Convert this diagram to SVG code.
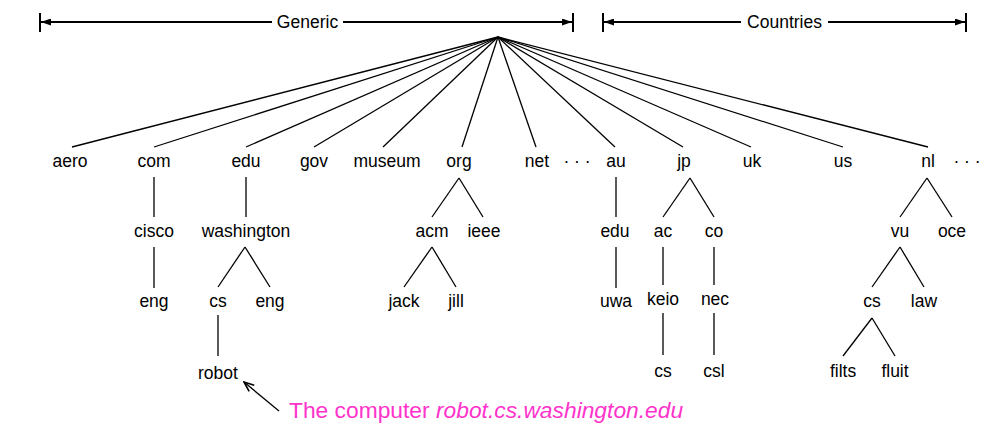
<svg xmlns="http://www.w3.org/2000/svg" width="1008" height="426" viewBox="0 0 1008 426">
<defs>
<marker id="tri" viewBox="0 0 10 7" refX="10" refY="3.5" markerWidth="11" markerHeight="7" markerUnits="userSpaceOnUse" orient="auto-start-reverse"><path d="M0,0 L10,3.5 L0,7 z" fill="#000"/></marker>
<marker id="vee" viewBox="0 0 12 10" refX="11" refY="5" markerWidth="12" markerHeight="10" markerUnits="userSpaceOnUse" orient="auto"><path d="M1,1 L11,5 L1,9" fill="none" stroke="#000" stroke-width="1.6"/></marker>
</defs>
<style>
text{font-family:"Liberation Sans",Arial,sans-serif;font-size:17.5px;fill:#000;text-anchor:middle}
.c line{stroke:#000;stroke-width:1.3;fill:none}
.hdr line{stroke:#000;stroke-width:2}
.note{font-size:22.8px;fill:#ff33cc;text-anchor:start}
</style>
<rect width="1008" height="426" fill="#fff"/>
<g id="header" class="hdr">
<line x1="40" y1="13" x2="40" y2="32"/>
<line x1="573" y1="13" x2="573" y2="32"/>
<line x1="41" y1="22" x2="272" y2="22" marker-start="url(#tri)"/>
<line x1="343" y1="22" x2="572" y2="22" marker-end="url(#tri)"/>
<text x="307.5" y="28">Generic</text>
<line x1="603" y1="13" x2="603" y2="32"/>
<line x1="966" y1="13" x2="966" y2="32"/>
<line x1="604" y1="22" x2="741" y2="22" marker-start="url(#tri)"/>
<line x1="828" y1="22" x2="965" y2="22" marker-end="url(#tri)"/>
<text x="784.5" y="28">Countries</text>
</g>
<g id="connectors" class="c">
<line x1="498" y1="37" x2="72" y2="147"/>
<line x1="498" y1="37" x2="154" y2="147"/>
<line x1="498" y1="37" x2="246" y2="147"/>
<line x1="498" y1="37" x2="314" y2="147"/>
<line x1="498" y1="37" x2="383" y2="147"/>
<line x1="498" y1="37" x2="462" y2="147"/>
<line x1="498" y1="37" x2="536" y2="147"/>
<line x1="498" y1="37" x2="615" y2="147"/>
<line x1="498" y1="37" x2="683" y2="147"/>
<line x1="498" y1="37" x2="751" y2="147"/>
<line x1="498" y1="37" x2="843" y2="147"/>
<line x1="498" y1="37" x2="928" y2="147"/>
<line x1="154" y1="177" x2="154" y2="217"/>
<line x1="154" y1="247" x2="154" y2="288"/>
<line x1="246" y1="177" x2="246" y2="217"/>
<line x1="245" y1="247" x2="218" y2="287"/>
<line x1="245" y1="247" x2="270" y2="287"/>
<line x1="218" y1="315" x2="218" y2="356"/>
<line x1="459" y1="178" x2="432" y2="217"/>
<line x1="459" y1="178" x2="483" y2="217"/>
<line x1="432" y1="247" x2="404" y2="287"/>
<line x1="432" y1="247" x2="456" y2="287"/>
<line x1="616" y1="177" x2="616" y2="217"/>
<line x1="616" y1="247" x2="616" y2="288"/>
<line x1="690" y1="178" x2="663" y2="217"/>
<line x1="690" y1="178" x2="714" y2="217"/>
<line x1="663" y1="247" x2="663" y2="285"/>
<line x1="714" y1="247" x2="714" y2="285"/>
<line x1="663" y1="313" x2="663" y2="355"/>
<line x1="714" y1="313" x2="714" y2="355"/>
<line x1="927" y1="178" x2="900" y2="217"/>
<line x1="927" y1="178" x2="952" y2="217"/>
<line x1="900" y1="247" x2="872" y2="287"/>
<line x1="900" y1="247" x2="924" y2="287"/>
<line x1="872" y1="318" x2="843" y2="356"/>
<line x1="872" y1="318" x2="895" y2="356"/>
<line x1="279" y1="411" x2="244" y2="382" marker-end="url(#vee)"/>
</g>
<g id="n-aero"><text x="70" y="167">aero</text></g>
<g id="n-com"><text x="154" y="167">com</text></g>
<g id="n-edu"><text x="246" y="167">edu</text></g>
<g id="n-gov"><text x="314" y="167">gov</text></g>
<g id="n-museum"><text x="387" y="167">museum</text></g>
<g id="n-org"><text x="459" y="167">org</text></g>
<g id="n-net"><text x="537" y="167">net</text></g>
<g id="dots1"><text x="577" y="167">· · ·</text></g>
<g id="n-au"><text x="616" y="167">au</text></g>
<g id="n-jp"><text x="684" y="167">jp</text></g>
<g id="n-uk"><text x="752" y="167">uk</text></g>
<g id="n-us"><text x="843" y="167">us</text></g>
<g id="n-nl"><text x="928" y="167">nl</text></g>
<g id="dots2"><text x="967" y="167">· · ·</text></g>
<g id="n-cisco"><text x="154" y="237">cisco</text></g>
<g id="n-washington"><text x="246" y="237">washington</text></g>
<g id="n-acm"><text x="432" y="237">acm</text></g>
<g id="n-ieee"><text x="484" y="237">ieee</text></g>
<g id="n-au-edu"><text x="615" y="237">edu</text></g>
<g id="n-ac"><text x="663" y="237">ac</text></g>
<g id="n-co"><text x="714" y="237">co</text></g>
<g id="n-vu"><text x="900" y="237">vu</text></g>
<g id="n-oce"><text x="952" y="237">oce</text></g>
<g id="n-cisco-eng"><text x="154" y="307">eng</text></g>
<g id="n-cs"><text x="218" y="307">cs</text></g>
<g id="n-wash-eng"><text x="270" y="307">eng</text></g>
<g id="n-jack"><text x="404" y="307">jack</text></g>
<g id="n-jill"><text x="456" y="307">jill</text></g>
<g id="n-uwa"><text x="616" y="307">uwa</text></g>
<g id="n-keio"><text x="663" y="305">keio</text></g>
<g id="n-nec"><text x="715" y="305">nec</text></g>
<g id="n-vu-cs"><text x="872" y="307">cs</text></g>
<g id="n-law"><text x="924" y="307">law</text></g>
<g id="n-robot"><text x="218" y="379">robot</text></g>
<g id="n-keio-cs"><text x="663" y="377">cs</text></g>
<g id="n-csl"><text x="714" y="377">csl</text></g>
<g id="n-filts"><text x="843" y="377">filts</text></g>
<g id="n-fluit"><text x="895" y="377">fluit</text></g>
<g id="note"><text class="note" x="289" y="418">The computer <tspan font-style="italic">robot.cs.washington.edu</tspan></text></g>
</svg>
